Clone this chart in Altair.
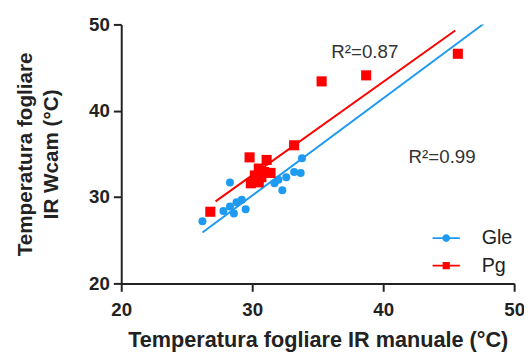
import altair as alt
import pandas as pd

# Data
gle_x = [26.2, 28.3, 27.8, 28.3, 28.8, 29.2, 29.5, 28.6, 32.0, 32.3, 32.6, 33.2, 33.7, 33.8, 31.7]
gle_y = [27.2, 31.7, 28.4, 28.9, 29.4, 29.7, 28.6, 28.1, 32.0, 30.8, 32.3, 32.9, 32.8, 34.5, 31.6]
pg_x = [26.8, 29.8, 31.1, 30.5, 30.9, 31.4, 29.9, 30.5, 30.7, 30.2, 33.2, 35.3, 38.7, 45.7]
pg_y = [28.3, 34.6, 34.3, 33.3, 32.9, 32.8, 31.6, 31.7, 32.3, 32.5, 36.0, 43.4, 44.1, 46.6]

# fitted lines (end points)
fit_gle_x = [26.2, 47.7]
fit_gle_y = [25.9, 50.1]
fit_pg_x = [27.2, 45.5]
fit_pg_y = [29.5, 49.3]

series = ["Gle", "Pg"]
colors = ["#1E9BF0", "#FF0000"]
r2_labels = ["R²=0.87", "R²=0.99"]
r2_x = [38.6, 44.5]
r2_y = [46.8, 34.6]

pts = pd.DataFrame({
    "x": gle_x + pg_x,
    "y": gle_y + pg_y,
    "series": ["Gle"] * len(gle_x) + ["Pg"] * len(pg_x),
})
fits = pd.DataFrame({
    "x": fit_gle_x + fit_pg_x,
    "y": fit_gle_y + fit_pg_y,
    "series": ["Gle"] * 2 + ["Pg"] * 2,
})
ann = pd.DataFrame({"x": r2_x, "y": r2_y, "t": r2_labels})

FONT = "Liberation Sans"

xs = alt.Scale(domain=[20, 50], nice=False, zero=False)
ys = alt.Scale(domain=[20, 50], nice=False, zero=False)
cs = alt.Scale(domain=series, range=colors)

xax = alt.Axis(values=[20, 30, 40, 50], title="Temperatura fogliare IR manuale (°C)",
               grid=False, domainColor="#222", domainWidth=2, tickColor="#222",
               tickWidth=2, tickSize=8, labelFont=FONT, labelFontSize=19,
               labelFontWeight="bold", labelColor="#222", labelPadding=10,
               titleFont=FONT, titleFontSize=22, titleFontWeight="bold",
               titleColor="#222", titlePadding=10, labelFlush=False)
yax = alt.Axis(values=[20, 30, 40, 50], title=["Temperatura fogliare", "IR Wcam (°C)"],
               grid=False, domainColor="#222", domainWidth=2, tickColor="#222",
               tickWidth=2, tickSize=8, labelFont=FONT, labelFontSize=19,
               labelFontWeight="bold", labelColor="#222", labelPadding=4,
               titleFont=FONT, titleFontSize=21, titleFontWeight="bold",
               titleColor="#222", titlePadding=28, titleLineHeight=26, labelFlush=False)

circle_line = ("M-1.6,-0.11H1.6V0.11H-1.6Z"
               "M-0.46,0A0.46,0.46 0 1 1 0.46,0A0.46,0.46 0 1 1 -0.46,0Z")
square_line = ("M-1.6,-0.11H1.6V0.11H-1.6Z"
               "M-0.42,-0.42H0.42V0.42H-0.42Z")

leg = alt.Legend(
    title=None, orient="none", legendX=320, legendY=207,
    symbolSize=300, labelFont=FONT, labelFontSize=20, labelColor="#222",
    labelOffset=26, rowPadding=8, symbolOpacity=1, symbolStrokeWidth=0)

color_enc = alt.Color("series:N", scale=cs, legend=leg)

lines = alt.Chart(fits).mark_line(strokeWidth=2, clip=True).encode(
    x=alt.X("x:Q", scale=xs, axis=xax),
    y=alt.Y("y:Q", scale=ys, axis=yax),
    color=color_enc,
    detail="series:N",
)

gle_pts = alt.Chart(pts).transform_filter(alt.datum.series == "Gle").mark_point(
    shape="circle", filled=True, size=66, opacity=1).encode(
    x="x:Q", y="y:Q", color=color_enc)

pg_pts = alt.Chart(pts).transform_filter(alt.datum.series == "Pg").mark_point(
    shape="square", filled=True, size=105, opacity=1).encode(
    x="x:Q", y="y:Q", color=color_enc)

texts = alt.Chart(ann).mark_text(font=FONT, fontSize=19, color="#333").encode(
    x="x:Q", y="y:Q", text="t:N")

legend_layer = alt.Chart(pts).transform_filter("false").mark_point(filled=True, opacity=1).encode(
    x="x:Q", y="y:Q",
    color=color_enc,
    shape=alt.Shape("series:N", scale=alt.Scale(domain=series, range=[circle_line, square_line]),
                    legend=leg),
)

chart = alt.layer(lines, gle_pts, pg_pts, texts, legend_layer).properties(
    width=399, height=263,
    autosize=alt.AutoSizeParams(type="none"),
    padding={"left": 115, "top": 14, "right": 10, "bottom": 68},
).configure_view(stroke=None)

chart.save("out.html", embed_options={"renderer": "svg", "actions": False})
